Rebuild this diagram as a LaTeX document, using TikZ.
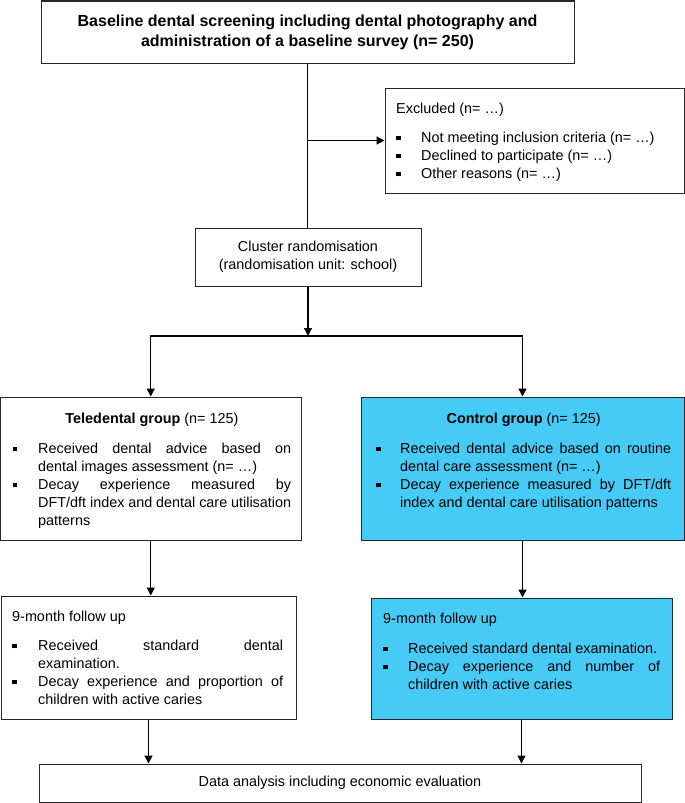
\documentclass[tikz,border=0pt]{standalone}
\usepackage{fontspec}
\setmainfont{Liberation Sans}
\usetikzlibrary{arrows.meta,positioning}
\definecolor{ctrlblue}{RGB}{69,203,246}
\newcommand{\sqbul}{\rule[0.12em]{0.3em}{0.3em}}
\newcommand{\bitem}[2][25pt]{\par\noindent\hangindent #1\hangafter 1\makebox[#1][l]{\sqbul}#2\par}

\begin{document}
\begin{tikzpicture}
 	  [x=1pt,y=-1pt,
 	box/.style={rectangle,draw=black!85,line width=1pt,inner sep=0pt,align=center,font=\fontsize{14.4}{18}\selectfont},
 	txt/.style={anchor=base west,inner sep=0pt,align=justify,font={\fontsize{14.4}{18}\selectfont\tolerance 10000\relax\hyphenpenalty 10000\relax}},
 	link/.style={line width=1.3pt,-{Triangle[length=8pt,width=8pt]}}]
 	
 	\useasboundingbox (0,0) rectangle (685,803);
 	
 	\node[box, minimum width=533pt, minimum height=62pt, font=\bfseries\fontsize{16}{20}\selectfont] (base) at (307.5,32) {Baseline dental screening including dental photography and\\administration of a baseline survey (n= 250)};
 	\node[box, minimum width=299pt, minimum height=105pt] (excl) at (534.5,140.5) {};
 	\node[box, minimum width=226pt, minimum height=58pt] (clust) at (308,257) {Cluster randomisation\\(randomisation unit: school)};
 	\node[box, minimum width=300.5pt, minimum height=143pt] (tele) at (150.75,468.5) {};
 	\node[box, fill=ctrlblue, minimum width=323pt, minimum height=143pt] (ctrl) at (522.5,468.5) {};
 	\node[box, minimum width=295pt, minimum height=123pt] (ful) at (148.5,657.5) {};
 	\node[box, fill=ctrlblue, minimum width=301pt, minimum height=121pt] (fur) at (521.5,658.5) {};
 	\node[box, minimum width=602pt, minimum height=38pt] (data) at (340,783) {Data analysis including economic evaluation};
 	
 	\node[txt, text width=280pt] (excltxt) at (396,113) {Excluded (n= …)\par\vspace{11pt}%
 	\bitem{Not meeting inclusion criteria (n= …)}\bitem{Declined to participate (n= …)}\bitem{Other reasons (n= …)}};
 	\node[txt, text width=278.5pt] (teletxt) at (12.5,423) {{\centering\textbf{Teledental group} (n= 125)\par}\vspace{12pt}%
 	\bitem[25.5pt]{Received dental advice based on\linebreak dental images assessment (n= …)}%
 	\bitem[25.5pt]{Decay experience measured by\linebreak DFT/dft index and dental care utilisation patterns}};
 	\node[txt, text width=295pt] (ctrltxt) at (376,423) {{\centering\textbf{Control group} (n= 125)\par}\vspace{12pt}%
 	\bitem[24pt]{Received dental advice based on routine dental care assessment (n= …)}%
 	\bitem[24pt]{Decay experience measured by DFT/dft index and dental care utilisation patterns}};
 	\node[txt, text width=271pt] (fultxt) at (12,621) {9-month follow up\par\vspace{11pt}%
 	\bitem[26pt]{Received standard dental\linebreak examination.}%
 	\bitem[26pt]{Decay experience and proportion of children with active caries}};
 	\node[txt, text width=277pt] (furtxt) at (383,623) {9-month follow up\par\vspace{12pt}%
 	\bitem{Received standard dental examination.}%
 	\bitem{Decay experience and number of children with active caries}};
 	
 	\coordinate (split) at (base.south |- excl.west);
 	\coordinate (fork) at (308,336);
 	\draw[line width=1.3pt] (base.south) -- (base.south |- clust.north);
 	\draw[link] (split) -- (excl.west);
 	\draw[link] (clust.south) -- (fork);
 	\draw[link] (fork) -| (tele.north);
 	\draw[link] (fork) -| (ctrl.north);
 	\draw[link] (tele.south) -- (tele.south |- ful.north);
 	\draw[link] (ctrl.south) -- (ctrl.south |- fur.north);
 	\draw[link] (ful.south) -- (ful.south |- data.north);
 	\draw[link] (fur.south) -- (fur.south |- data.north);
 	
 \end{tikzpicture}
\end{document}
